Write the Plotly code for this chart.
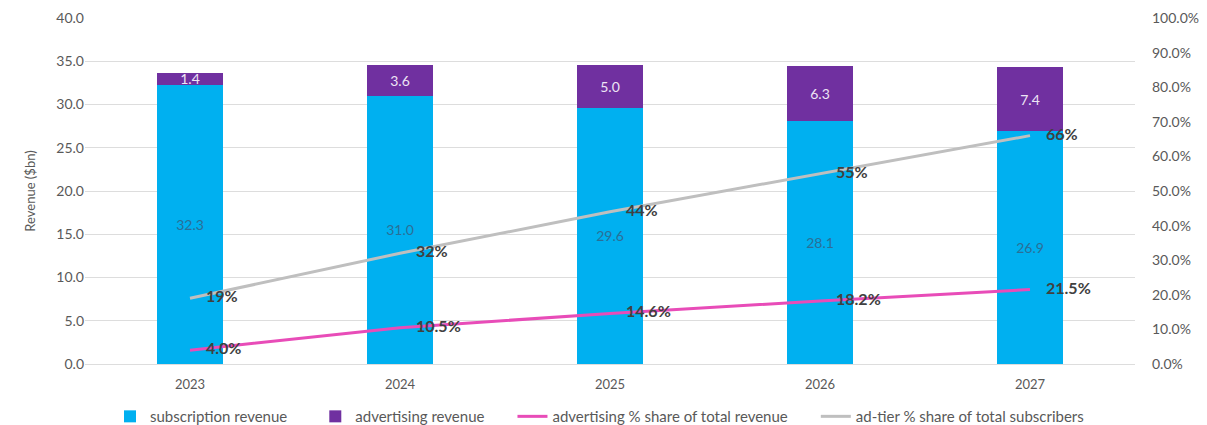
import plotly.graph_objects as go

years = ["2023", "2024", "2025", "2026", "2027"]
subscription_revenue = [32.3, 31.0, 29.6, 28.1, 26.9]
advertising_revenue = [1.4, 3.6, 5.0, 6.3, 7.4]
ad_share_revenue = [4.0, 10.5, 14.6, 18.2, 21.5]
ad_tier_share_subs = [19, 32, 44, 55, 66]

FONT = "Lato"
GREY_TXT = "#595959"
PAD = "\u00a0" * 6  # extra room between legend entries

fig = go.Figure()

fig.add_trace(go.Bar(
    x=years, y=subscription_revenue, name="subscription revenue" + PAD,
    marker=dict(color="#00B0F0", line=dict(width=0)),
    text=[f"{v:.1f}" for v in subscription_revenue],
    textposition="inside", insidetextanchor="middle", textangle=0,
    constraintext="none",
    textfont=dict(family=FONT, size=14, color="#2A6F97"),
    width=0.31,
))
fig.add_trace(go.Bar(
    x=years, y=advertising_revenue, name="advertising revenue" + PAD,
    marker=dict(color="#7030A0", line=dict(width=0)),
    text=[f"{v:.1f}" for v in advertising_revenue],
    textposition="inside", insidetextanchor="middle", textangle=0,
    constraintext="none",
    textfont=dict(family=FONT, size=14, color="#EDE4F5"),
    width=0.31,
))

fig.add_trace(go.Scatter(
    x=years, y=ad_share_revenue, yaxis="y2", mode="lines",
    name="advertising % share of total revenue" + PAD,
    line=dict(color="#E84CB8", width=3),
))
fig.add_trace(go.Scatter(
    x=years, y=ad_tier_share_subs, yaxis="y2", mode="lines",
    name="ad-tier % share of total subscribers",
    line=dict(color="#BFBFBF", width=3),
))

# value labels for the two share lines, nudged right of each point
label_font = dict(family=FONT, size=16, color="#404040", weight="bold")
hidden_marker = dict(size=24, color="rgba(0,0,0,0)")
fig.add_trace(go.Scatter(
    x=years, y=ad_share_revenue, yaxis="y2", mode="markers+text",
    text=[f"{v:.1f}%" for v in ad_share_revenue],
    textposition="middle right", textfont=label_font, marker=hidden_marker,
    showlegend=False, hoverinfo="skip",
))
fig.add_trace(go.Scatter(
    x=years, y=ad_tier_share_subs, yaxis="y2", mode="markers+text",
    text=[f"{v}%" for v in ad_tier_share_subs],
    textposition="middle right", textfont=label_font, marker=hidden_marker,
    showlegend=False, hoverinfo="skip",
))

fig.update_layout(
    width=1207, height=425,
    margin=dict(l=85, r=72, t=18, b=61, autoexpand=False),
    barmode="stack",
    plot_bgcolor="white", paper_bgcolor="white",
    font=dict(family=FONT, color=GREY_TXT, size=12),
    xaxis=dict(
        tickfont=dict(size=13, color=GREY_TXT),
        showgrid=False, showline=False, ticks="",
        ticklabelstandoff=11,
    ),
    yaxis=dict(
        range=[0, 40], dtick=5, tickformat=".1f",
        gridcolor="#DDDDDD", gridwidth=1,
        zeroline=True, zerolinecolor="#DDDDDD", zerolinewidth=1,
        tickfont=dict(size=14, color=GREY_TXT),
        title=dict(text="Revenue ($bn)", font=dict(size=13, color=GREY_TXT), standoff=17),
        ticks="", ticklen=0,
    ),
    yaxis2=dict(
        overlaying="y", side="right",
        range=[0, 100], dtick=10, ticksuffix="%", tickformat=".1f",
        showgrid=False, zeroline=False,
        tickfont=dict(size=14, color=GREY_TXT),
        ticklabelstandoff=16,
    ),
    legend=dict(
        orientation="h", x=0.49, xanchor="center", y=-0.152, yanchor="middle",
        font=dict(size=15, color=GREY_TXT), traceorder="normal",
    ),
    showlegend=True,
)

fig.write_html("out.html")
